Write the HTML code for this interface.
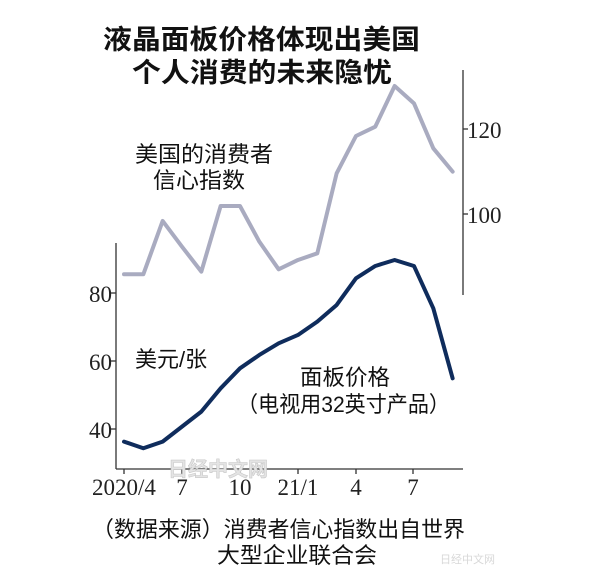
<!DOCTYPE html>
<html><head><meta charset="utf-8"><style>
html,body{margin:0;padding:0;background:#fff;}
svg{display:block}
.cj{font-family:"Liberation Sans","Noto Sans CJK SC",sans-serif;}
.nm{font-family:"Liberation Serif",serif;font-size:23px;fill:#222;}
</style></head><body>
<svg width="600" height="583" viewBox="0 0 600 583" xmlns="http://www.w3.org/2000/svg">
<rect width="600" height="583" fill="#fff"/>
<g class="cj" font-weight="bold" font-size="27" fill="#111">
<text x="103" y="49" textLength="317" lengthAdjust="spacingAndGlyphs">液晶面板价格体现出美国</text>
<text x="132" y="82" textLength="260" lengthAdjust="spacingAndGlyphs">个人消费的未来隐忧</text>
</g>
<!-- axes -->
<g stroke="#333" stroke-width="1.3" fill="none">
<line x1="116" y1="243" x2="116" y2="469"/>
<line x1="116" y1="469" x2="463" y2="469"/>
<line x1="463" y1="70" x2="463" y2="295"/>
<line x1="111" y1="293" x2="116" y2="293"/>
<line x1="111" y1="361" x2="116" y2="361"/>
<line x1="111" y1="429" x2="116" y2="429"/>
<line x1="463" y1="129" x2="468" y2="129"/>
<line x1="463" y1="214" x2="468" y2="214"/>
<line x1="124" y1="469" x2="124" y2="474"/>
<line x1="182" y1="469" x2="182" y2="474"/>
<line x1="240" y1="469" x2="240" y2="474"/>
<line x1="298" y1="469" x2="298" y2="474"/>
<line x1="356" y1="469" x2="356" y2="474"/>
<line x1="413" y1="469" x2="413" y2="474"/>
</g>
<g transform="translate(80,60) scale(0.3333)" fill="none" stroke-linejoin="round" stroke-linecap="round">
<polyline stroke="#a9abc0" stroke-width="12" points="132,643 190,643 248,483 306,560 364,635 422,438 480,438 538,545 596,628 654,600 712,580 770,340 828,228 886,200 944,78 1002,130 1060,265 1118,335"/>
<polyline stroke="#0f2c5c" stroke-width="12" points="132,1145 190,1165 248,1145 306,1100 364,1055 422,985 480,925 538,885 596,850 654,825 712,785 770,735 828,655 886,618 944,600 1002,618 1060,745 1118,955"/>
</g>
<g class="nm" text-anchor="end">
<text x="112" y="302">80</text>
<text x="112" y="370">60</text>
<text x="112" y="438">40</text>
</g>
<g class="nm">
<text x="467" y="138">120</text>
<text x="467" y="223">100</text>
</g>
<g class="nm" text-anchor="middle">
<text x="124" y="495">2020/4</text>
<text x="182" y="495">7</text>
<text x="240" y="495">10</text>
<text x="298" y="495">21/1</text>
<text x="356" y="495">4</text>
<text x="413" y="495">7</text>
</g>
<g class="cj" font-size="22" fill="#111">
<text x="135" y="162" textLength="138" lengthAdjust="spacingAndGlyphs">美国的消费者</text>
<text x="153" y="188" textLength="92" lengthAdjust="spacingAndGlyphs">信心指数</text>
<text x="135" y="367">美元/张</text>
<text x="300" y="385" textLength="90" lengthAdjust="spacingAndGlyphs">面板价格</text>
<text x="237" y="412" textLength="213" lengthAdjust="spacingAndGlyphs">（电视用32英寸产品）</text>
<text x="92" y="537" textLength="373" lengthAdjust="spacingAndGlyphs">（数据来源）消费者信心指数出自世界</text>
<text x="217" y="563" textLength="160" lengthAdjust="spacingAndGlyphs">大型企业联合会</text>
</g>
<text class="cj" x="168" y="476" font-size="20" font-weight="bold" fill="#e4e4e4" stroke="#c8c8c8" stroke-width="0.6">日经中文网</text>
<text class="cj" x="440" y="563" font-size="11" fill="#d8d8d8">日经中文网</text>
</svg>
</body></html>
